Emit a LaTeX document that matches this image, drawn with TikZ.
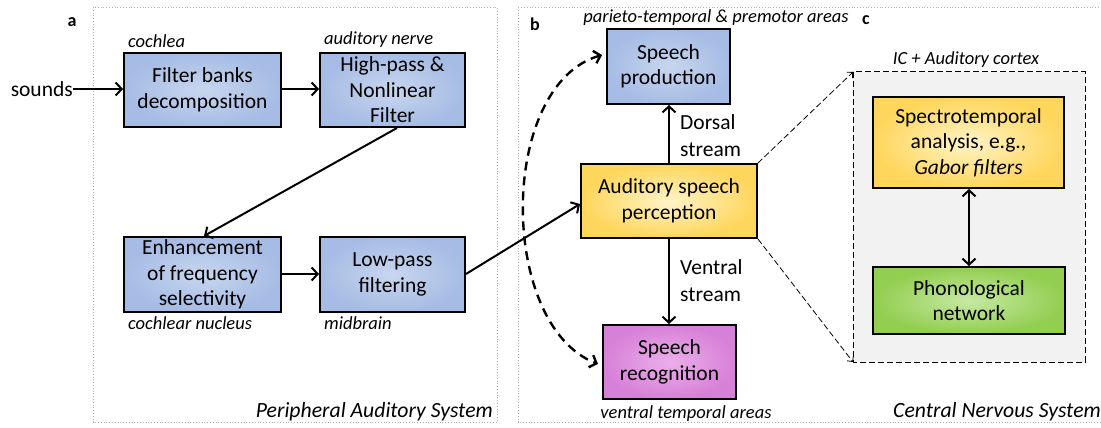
\documentclass[tikz,border=0pt]{standalone}
\usepackage{fontspec}
\setmainfont{Carlito}
\usetikzlibrary{arrows.meta}

\definecolor{blueE}{RGB}{166,188,228}
\definecolor{blueC}{RGB}{200,214,239}
\definecolor{yelE}{RGB}{255,214,92}
\definecolor{yelC}{RGB}{255,244,200}
\definecolor{pinkE}{RGB}{215,128,215}
\definecolor{pinkC}{RGB}{234,175,234}
\definecolor{greenE}{RGB}{146,206,80}
\definecolor{greenC}{RGB}{198,232,162}
\definecolor{panelgray}{RGB}{242,242,242}
\definecolor{framegray}{RGB}{175,175,175}

\tikzset{
  box/.style={draw=black, line width=2pt, inner sep=0pt, align=center,
    font=\fontsize{21.5}{25.5}\selectfont},
  bluebox/.style={box, inner color=blueC, outer color=blueE},
  yelbox/.style={box, inner color=yelC, outer color=yelE},
  pinkbox/.style={box, inner color=pinkC, outer color=pinkE},
  greenbox/.style={box, inner color=greenC, outer color=greenE},
  tag/.style={font=\fontsize{18.5}{20}\selectfont\itshape, inner sep=0pt},
  region/.style={font=\fontsize{21.7}{24}\selectfont\itshape, inner sep=0pt},
  letter/.style={font=\fontsize{18}{20}\selectfont\bfseries, inner sep=0pt},
  plain/.style={font=\fontsize{21.5}{27}\selectfont, inner sep=0pt, align=left},
  frame/.style={draw=framegray, line width=0.8pt, dotted},
  arr/.style={line width=2pt, -{Straight Barb[length=6pt,width=13pt]}},
  dblarr/.style={line width=2pt, {Straight Barb[length=6pt,width=13pt]}-{Straight Barb[length=6pt,width=13pt]}},
  loop/.style={line width=2.4pt, dash pattern=on 9pt off 6pt,
    {Straight Barb[length=6pt,width=13pt]}-{Straight Barb[length=6pt,width=13pt]}},
  thinarr/.style={line width=0.8pt, dash pattern=on 6pt off 3pt, -{Straight Barb[length=4pt,width=8pt]}},
}

\begin{document}
\begin{tikzpicture}[x=1pt,y=-1pt]
\useasboundingbox (0,0) rectangle (1101,428);

% panel frames
\draw[frame] (93,7) rectangle (497,422);
\draw[frame] (518,7) rectangle (1106,422);
\draw[dashed, line width=1pt, dash pattern=on 6pt off 3pt, fill=panelgray] (853,72) rectangle (1085,362);

% panel letters
\node[letter] (la) at (72,22) {a};
\node[letter] (lb) at (535,24) {b};
\node[letter] (lc) at (866,20) {c};

% (a) peripheral auditory system
\node[bluebox, minimum width=157pt, minimum height=74pt] (fb) at (202.5,90) {Filter banks\\decomposition};
\node[bluebox, minimum width=145pt, minimum height=74pt] (hp) at (392.5,90) {High-pass \&\\Nonlinear\\Filter};
\node[bluebox, minimum width=157pt, minimum height=75pt] (en) at (202.5,274.5) {Enhancement\\of frequency\\selectivity};
\node[bluebox, minimum width=145pt, minimum height=75pt] (lp) at (392.5,274.5) {Low-pass\\filtering};

\node[tag, anchor=south west] (tcoch) at (128,48) {cochlea};
\node[tag, anchor=south west] (tnerve) at (324,48) {auditory nerve};
\node[tag, anchor=north west] (tcn) at (128,316) {cochlear nucleus};
\node[tag, anchor=north west] (tmid) at (324,316) {midbrain};

\node[plain, anchor=east] (snd) at (73,89) {sounds};
\node[region, anchor=south east] (pas) at (493,421) {Peripheral Auditory System};

\draw[arr] (snd.east) -- (fb.west |- snd.east);
\draw[arr] (fb.east |- 0,89) -- (hp.west |- 0,89);
\draw[arr] (hp.south -| 397,0) -- (en.north -| 204,0);
\draw[arr] (en.east |- 0,274) -- (lp.west |- 0,274);

% (b) cortical speech processing streams
\node[bluebox, minimum width=123pt, minimum height=75pt] (sp) at (668.5,66.5) {Speech\\production};
\node[yelbox, minimum width=176pt, minimum height=74pt] (asp) at (669,201) {Auditory speech\\perception};
\node[pinkbox, minimum width=133pt, minimum height=74pt] (sr) at (669.5,362) {Speech\\recognition};

\node[tag, anchor=south] (tpt) at (716,26) {parieto-temporal \& premotor areas};
\node[tag, anchor=south] (tvt) at (686,422) {ventral temporal areas};

\draw[arr] (asp.north -| 669,0) -- (sp.south -| 669,0);
\draw[arr] (asp.south -| 669,0) -- (sr.north -| 669,0);
\node[plain, anchor=north west] (ldors) at (680,114) {Dorsal\\stream};
\node[plain, anchor=north west] (lvent) at (680,259) {Ventral\\stream};

\draw[arr] (lp.east |- 0,274) -- (asp.west |- 0,204);

\coordinate (topin) at (602,55);
\coordinate (botin) at (598,364);
\draw[loop] (topin) .. controls (498,85) and (498,325) .. (botin);

% (c) IC + auditory cortex detail
\node[tag, anchor=south] (tic) at (966,68) {IC + Auditory cortex};
\node[yelbox, minimum width=191pt, minimum height=91pt] (spec) at (968.5,142.5) {Spectrotemporal\\analysis, e.g.,\\\textit{Gabor filters}};
\node[greenbox, minimum width=192pt, minimum height=67pt] (phon) at (969,300.5) {Phonological\\network};
\draw[dblarr] (spec.south -| 969,0) -- (phon.north -| 969,0);

\coordinate (boxtl) at (853,72);
\coordinate (boxbl) at (853,362);
\draw[thinarr] (asp.north east) -- (boxtl);
\draw[thinarr] (asp.south east) -- (boxbl);

\node[region, anchor=south east] (cns) at (1101,421) {Central Nervous System};
\end{tikzpicture}
\end{document}
